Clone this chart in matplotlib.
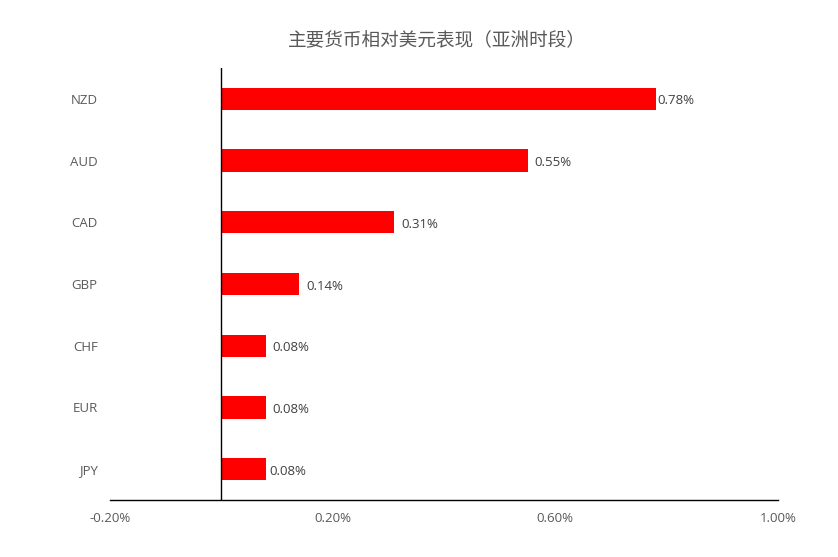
import matplotlib
matplotlib.use("Agg")
import matplotlib.pyplot as plt
from matplotlib.ticker import FuncFormatter

categories = ["NZD", "AUD", "CAD", "GBP", "CHF", "EUR", "JPY"]
values = [0.78, 0.55, 0.31, 0.14, 0.08, 0.08, 0.08]
value_labels = ["0.78%", "0.55%", "0.31%", "0.14%", "0.08%", "0.08%", "0.08%"]
xticks = [-0.20, 0.20, 0.60, 1.00]
title = "主要货币相对美元表现（亚洲时段）"

plt.rcParams['font.family'] = ['Open Sans', 'Noto Sans CJK SC', 'DejaVu Sans']

fig = plt.figure(figsize=(8.38, 5.57), dpi=100)
ax = fig.add_axes([110/838, 1 - 500/557, (778-110)/838, (500-68)/557])

ypos = list(range(len(categories)))
ax.barh(ypos, values, height=0.36, color="#FF0000")
ax.set_ylim(len(categories) - 0.5, -0.5)
ax.set_xlim(-0.20, 1.00)
ax.set_xticks(xticks)
ax.xaxis.set_major_formatter(FuncFormatter(lambda v, p: f"{v:.2f}%"))
ax.set_yticks(ypos)
ax.set_yticklabels(categories)

for s in ["top", "right", "left"]:
    ax.spines[s].set_visible(False)
ax.spines["bottom"].set_color("#000000")
ax.spines["bottom"].set_linewidth(1.0)
ax.axvline(0, color="#000000", linewidth=1.0)

ax.tick_params(axis="x", length=0, pad=9, labelsize=9.5, labelcolor="#595959")
ax.tick_params(axis="y", length=0, pad=9, labelsize=9.5, labelcolor="#595959")

offsets = [2, 7, 7, 7, 7, 7, 4]
for y, v, lab, off in zip(ypos, values, value_labels, offsets):
    ax.annotate(lab, xy=(v, y), xytext=(off, -2), textcoords="offset pixels",
                va="center", ha="left", fontsize=9.5, color="#404040")

fig.text(437/838, 1 - 41/557, title, ha="center", va="center", fontsize=13.4,
         color="#595959", family=['Noto Sans CJK SC', 'DejaVu Sans'])

fig.savefig("out.png", dpi=100, facecolor="white")
